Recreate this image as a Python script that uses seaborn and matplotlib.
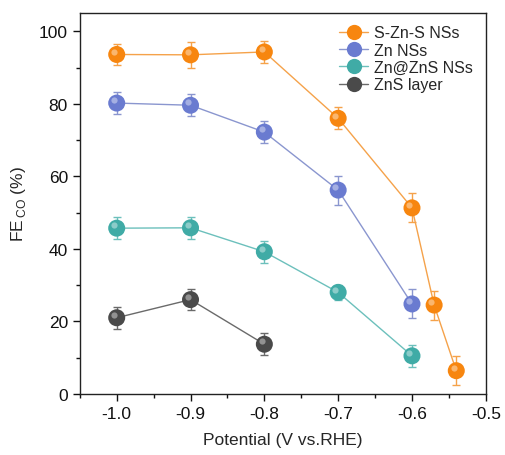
import numpy as np
import pandas as pd
import matplotlib
matplotlib.use("Agg")
import matplotlib.pyplot as plt
import matplotlib.transforms as mtransforms
from matplotlib.lines import Line2D
from matplotlib.ticker import MultipleLocator
import seaborn as sns

# ==========================
# data
# ==========================
series = ["S-Zn-S NSs", "Zn NSs", "Zn@ZnS NSs", "ZnS layer"]

x_szns = [-1.0, -0.9, -0.8, -0.7, -0.6, -0.57, -0.54]
y_szns = [93.6, 93.5, 94.3, 76.0, 51.3, 24.5, 6.4]
e_szns = [3.0, 3.5, 3.0, 3.0, 4.0, 4.0, 4.0]

x_zn = [-1.0, -0.9, -0.8, -0.7, -0.6]
y_zn = [80.2, 79.6, 72.2, 56.2, 24.8]
e_zn = [3.0, 3.0, 3.0, 4.0, 4.0]

x_znzns = [-1.0, -0.9, -0.8, -0.7, -0.6]
y_znzns = [45.7, 45.8, 39.2, 28.0, 10.5]
e_znzns = [3.0, 3.0, 3.0, 2.0, 3.0]

x_zns = [-1.0, -0.9, -0.8]
y_zns = [21.0, 26.0, 13.7]
e_zns = [3.0, 3.0, 3.0]

colors = ["#F7860F", "#6A7BD0", "#40ABA6", "#4A4A4A"]
line_colors = ["#F5A24A", "#8A96CF", "#6CC0BC", "#6A6A6A"]

frames = []
for name, xs, ys, es in zip(series,
                            [x_szns, x_zn, x_znzns, x_zns],
                            [y_szns, y_zn, y_znzns, y_zns],
                            [e_szns, e_zn, e_znzns, e_zns]):
    frames.append(pd.DataFrame({"Sample": name, "Potential": xs, "FE": ys, "err": es}))
df = pd.concat(frames, ignore_index=True)

# ==========================
# plot
# ==========================
sns.set_style("ticks")
plt.rcParams["font.family"] = ["Liberation Sans", "DejaVu Sans"]
plt.rcParams["mathtext.fontset"] = "custom"
plt.rcParams["mathtext.rm"] = "Liberation Sans"

fig = plt.figure(figsize=(5.05, 4.56), dpi=100)
ax = fig.add_axes([0.158, 0.134, 0.804, 0.835])

palette = dict(zip(series, colors))
line_palette = dict(zip(series, line_colors))

for name in series:
    sub = df[df["Sample"] == name]
    ax.errorbar(sub["Potential"], sub["FE"], yerr=sub["err"], fmt="none",
                ecolor=line_palette[name], elinewidth=1, capsize=3, capthick=1, zorder=2)

# lines (lighter tint)
sns.lineplot(data=df, x="Potential", y="FE", hue="Sample", hue_order=series,
             palette=line_palette, linewidth=1, ax=ax, legend=False, zorder=3)

# sphere markers
sns.scatterplot(data=df, x="Potential", y="FE", hue="Sample", hue_order=series,
                palette=palette, s=150, linewidth=0, ax=ax, legend=False, zorder=4)

# small highlight to mimic the shaded spheres
shift = mtransforms.ScaledTranslation(-2 / 72, 2 / 72, fig.dpi_scale_trans)
ax.scatter(df["Potential"], df["FE"], s=20, color="white", alpha=0.4,
           linewidth=0, transform=ax.transData + shift, zorder=5)

ax.set_xlim(-1.05, -0.5)
ax.set_ylim(0, 105)
ax.xaxis.set_major_locator(MultipleLocator(0.1))
ax.xaxis.set_minor_locator(MultipleLocator(0.05))
ax.yaxis.set_major_locator(MultipleLocator(20))
ax.yaxis.set_minor_locator(MultipleLocator(10))
ax.set_xticks([-1.0, -0.9, -0.8, -0.7, -0.6, -0.5])
ax.set_xticklabels(["-1.0", "-0.9", "-0.8", "-0.7", "-0.6", "-0.5"])
ax.tick_params(axis="both", which="major", direction="out", length=5, width=1,
               labelsize=12.5, top=False, right=False, colors="#111111")
ax.tick_params(axis="both", which="minor", direction="out", length=3, width=1,
               top=False, right=False, colors="#111111")

for s in ax.spines.values():
    s.set_linewidth(1)
    s.set_color("#222222")

ax.set_xlabel("Potential (V vs.RHE)", fontsize=12.5, labelpad=8)
ax.set_ylabel(r"FE$_{\,\mathrm{CO}}$ (%)", fontsize=12.5, labelpad=8)

handles = [Line2D([0], [0], color=lc, linewidth=1, marker="o", markersize=11,
                  markerfacecolor=c, markeredgewidth=0)
           for c, lc in zip(colors, line_colors)]
ax.legend(handles, series, loc="upper right", frameon=False, fontsize=11.5,
          handlelength=1.8, handletextpad=0.4, labelspacing=0.15,
          borderaxespad=0.0, bbox_to_anchor=(0.985, 0.985))

plt.savefig("out.png", dpi=100)
